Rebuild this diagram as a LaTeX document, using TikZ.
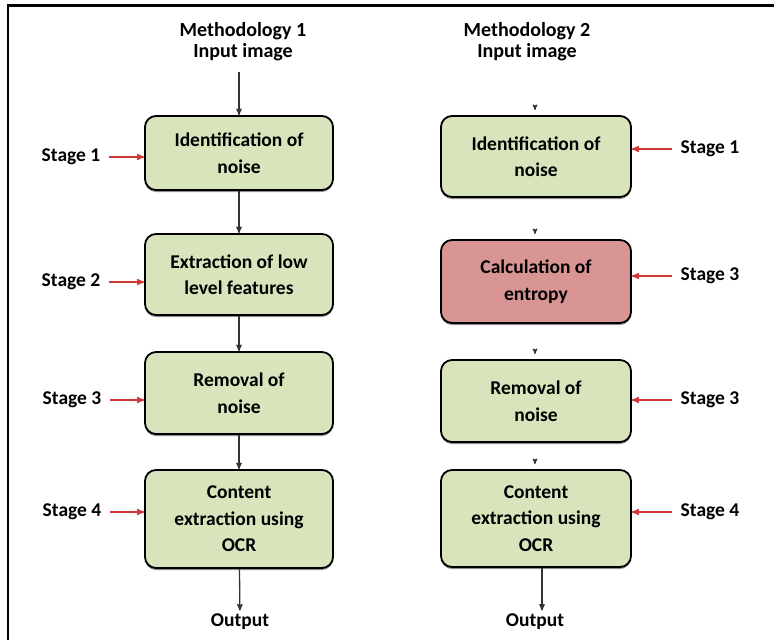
\documentclass[tikz,border=0pt]{standalone}
\usepackage{fontspec}
\setmainfont{Carlito}
\usepackage{tikz}
\usetikzlibrary{arrows,positioning,shapes}
\usetikzlibrary{calc}
\usetikzlibrary{shadows}

\definecolor{boxgreen}{HTML}{D7E4BC}
\definecolor{boxred}{HTML}{D99594}
\definecolor{stagered}{HTML}{D03838}

\begin{document}
\begin{tikzpicture}[x=1pt,y=-1pt,
  every node/.style={align=center,font=\bfseries\fontsize{19.5}{26.5}\selectfont},
  stagebox/.style={draw,line width=1.8pt,rounded corners=11pt,fill=boxgreen,
    inner sep=2pt,drop shadow={shadow xshift=0pt,shadow yshift=-2pt,fill=black!55,opacity=.8}},
  entropybox/.style={stagebox,fill=boxred},
  heading/.style={font=\bfseries\fontsize{20}{21}\selectfont},
  stagelabel/.style={font=\bfseries\fontsize{19.5}{21}\selectfont},
  to/.style={->,>=stealth',line width=1.3pt,black!80},
  tick/.style={->,>=stealth',line width=1pt,black!80},
  feed/.style={->,>=stealth',line width=1.5pt,stagered}]

    \useasboundingbox (0,0) rectangle (774,640);
    \draw[line width=2.5pt] (8,640) -- (8,5.5) -- (774,5.5);

    % methodology 1
    \node[heading](t1) at (243,42){Methodology 1\\Input image};
    \node[stagebox,minimum width=188,minimum height=74](a1) at (239,153){Identification of\\noise};
    \node[stagebox,minimum width=188,minimum height=81](a2) at (239,274.5){Extraction of low\\level features};
    \node[stagebox,minimum width=188,minimum height=82](a3) at (239,393){Removal of\\noise};
    \node[stagebox,minimum width=188,minimum height=98](a4) at (239,519){Content\\extraction using\\OCR};
    \node(o1) at (240,622){Output};

    \node[stagelabel](sa1) at (71,157){Stage 1};
    \node[stagelabel](sa2) at (71,282){Stage 2};
    \node[stagelabel](sa3) at (72,400){Stage 3};
    \node[stagelabel](sa4) at (72,512){Stage 4};

    \coordinate(in1) at (239,72);
    \draw[to](in1) -- (a1);
    \draw[to](a1) -- (a2);
    \draw[to](a2) -- (a3);
    \draw[to](a3) -- (a4);
    \draw[to](a4) -- (o1);

    \foreach \s/\b in {sa1/a1,sa2/a2,sa3/a3,sa4/a4}
        \draw[feed,shorten <=5pt](\s.east) -- (\s.east -| \b.west);

    % methodology 2
    \node[heading](t2) at (527,42){Methodology 2\\Input image};
    \node[stagebox,minimum width=190,minimum height=81](b1) at (536,156.5){Identification of\\noise};
    \node[entropybox,minimum width=190,minimum height=83](b2) at (536,281.5){Calculation of\\entropy};
    \node[stagebox,minimum width=190,minimum height=82](b3) at (536,401){Removal of\\noise};
    \node[stagebox,minimum width=190,minimum height=97](b4) at (536,518.5){Content\\extraction using\\OCR};
    \node(o2) at (535,622){Output};

    \node[stagelabel](sb1) at (710,149){Stage 1};
    \node[stagelabel](sb2) at (710,276){Stage 3};
    \node[stagelabel](sb3) at (710,400){Stage 3};
    \node[stagelabel](sb4) at (710,512){Stage 4};

    % only small heads above the boxes
    \foreach \b in {b1,b2,b3,b4}{
        \coordinate(\b tip) at ($(\b.north)+(-1,-6)$);
        \draw[tick](\b tip) -- ++(0,1);
    }
    \draw[to]([xshift=6pt]b4.south) -- ([xshift=6pt]b4.south |- o2.north);

    \foreach \s/\b in {sb1/b1,sb2/b2,sb3/b3,sb4/b4}
        \draw[feed,shorten <=5pt](\s.west) -- (\s.west -| \b.east);
\end{tikzpicture}
\end{document}
